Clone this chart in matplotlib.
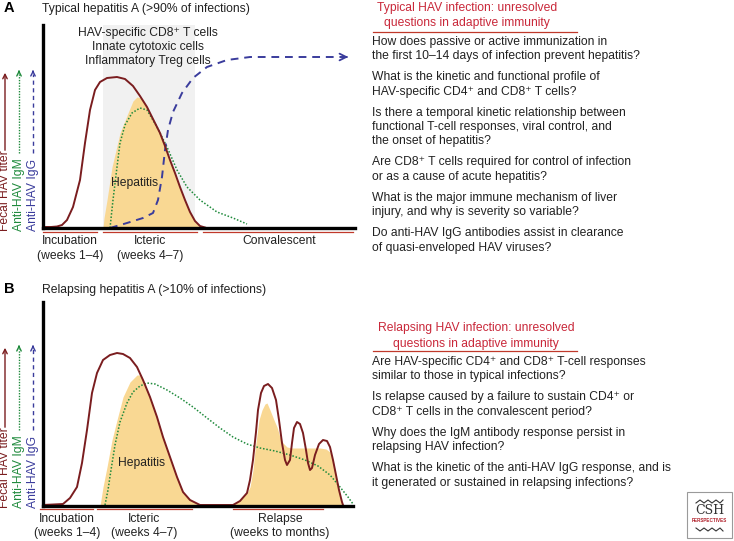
import matplotlib
matplotlib.use("Agg")
import matplotlib.pyplot as plt
from matplotlib.patches import Rectangle

plt.rcParams['font.family'] = ['Liberation Sans', 'DejaVu Sans']

# ---------------- data (schematic levels) ----------------
# Panel A: typical hepatitis A
a_fecal_t = [0, 8, 14, 19, 24, 30, 37, 42, 47, 52, 57, 64, 74, 82, 90, 97, 104, 110, 117, 122,
             127, 132, 137, 142, 147, 152, 157, 162]
a_fecal_v = [1, 1, 1.5, 3, 8, 21, 48, 85, 118, 138, 146, 150, 151, 149, 142, 132, 121, 109, 95, 82,
             68, 55, 41, 28, 16, 7, 2, 0.5]
a_hep_t = [60, 61, 64, 69, 77, 85, 90, 94, 98, 101, 104, 110, 117, 122, 127, 132, 137, 142, 147, 152, 157, 162]
a_hep_v = [0, 10, 28, 61, 95, 115, 127, 131, 130, 126, 120, 108, 94, 81, 67, 54, 40, 27, 15, 6, 1.5, 0]
a_igm_t = [67, 70, 74, 77, 82, 89, 97, 104, 114, 124, 134, 144, 157, 174, 190, 204]
a_igm_v = [0, 28, 61, 85, 103, 115, 120, 118, 101, 81, 58, 41, 28, 16, 10, 4]
a_igg_t = [67, 84, 100, 110, 115, 119, 122, 125, 130, 139, 150, 164, 184, 207, 240, 306]
a_igg_v = [0, 5, 10, 15, 28, 51, 78, 98, 116, 135, 150, 161, 168, 171, 171, 171]
a_tcell_window = [60, 152]

# Panel B: relapsing hepatitis A
b_fecal_t = [0, 20, 27, 34, 39, 44, 49, 54, 60, 67, 74, 80, 87, 94, 100, 107, 114, 120, 127, 134,
             140, 147, 157, 190, 197, 204, 207, 210, 213, 215, 218, 221, 225, 229, 233, 236, 239,
             242, 244, 247, 249, 251, 254, 257, 260, 263, 265, 267, 269, 272, 276, 280, 284, 287,
             290, 293, 296, 299, 300]
b_fecal_v = [1, 2, 8, 19, 43, 76, 113, 133, 146, 151, 153, 152, 148, 139, 126, 109, 89, 69, 49, 29,
             14, 6, 1, 1, 5, 13, 26, 46, 74, 96, 113, 120, 122, 118, 106, 86, 63,
             46, 41, 46, 63, 78, 84, 82, 73, 56, 43, 36, 38, 51, 62, 66, 65, 59,
             46, 31, 16, 4, 1]
b_hep1_t = [57, 60, 64, 69, 74, 80, 87, 94, 98, 100, 107, 114, 120, 127, 134, 140, 147, 157]
b_hep1_v = [0, 19, 39, 66, 86, 109, 124, 131, 131, 126, 109, 89, 69, 49, 29, 14, 6, 0]
b_hep2_t = [187, 197, 204, 207, 210, 212, 214, 216, 219, 222, 224, 227, 231, 234, 237, 240, 244,
            249, 257, 267, 277, 283, 287, 290, 293, 296, 299]
b_hep2_v = [0, 6, 13, 19, 36, 56, 71, 86, 96, 102, 103, 96, 86, 79, 69, 63, 59,
            58, 58, 58, 58, 57, 54, 46, 31, 16, 0]
b_igm_t = [62, 65, 68, 72, 77, 84, 90, 97, 104, 112, 124, 137, 150, 164, 177, 190, 204, 217, 232,
           247, 262, 275, 287, 297, 305, 310]
b_igm_v = [1, 16, 36, 61, 84, 103, 114, 120, 123, 122, 116, 108, 99, 88, 78, 69, 62, 58, 55,
           51, 46, 40, 31, 19, 9, 2]

a_phases = [("Incubation", "(weeks 1\u20134)"), ("Icteric", "(weeks 4\u20137)"), ("Convalescent", "")]
b_phases = [("Incubation", "(weeks 1\u20134)"), ("Icteric", "(weeks 4\u20137)"), ("Relapse", "(weeks to months)")]

a_header = ["Typical HAV infection: unresolved", "questions in adaptive immunity"]
b_header = ["Relapsing HAV infection: unresolved", "questions in adaptive immunity"]

a_questions = [
    ["How does passive or active immunization in", "the first 10\u201314 days of infection prevent hepatitis?"],
    ["What is the kinetic and functional profile of", "HAV-specific CD4\u207a and CD8\u207a T cells?"],
    ["Is there a temporal kinetic relationship between", "functional T-cell responses, viral control, and",
     "the onset of hepatitis?"],
    ["Are CD8\u207a T cells required for control of infection", "or as a cause of acute hepatitis?"],
    ["What is the major immune mechanism of liver", "injury, and why is severity so variable?"],
    ["Do anti-HAV IgG antibodies assist in clearance", "of quasi-enveloped HAV viruses?"],
]
b_questions = [
    ["Are HAV-specific CD4\u207a and CD8\u207a T-cell responses", "similar to those in typical infections?"],
    ["Is relapse caused by a failure to sustain CD4\u207a or", "CD8\u207a T cells in the convalescent period?"],
    ["Why does the IgM antibody response persist in", "relapsing HAV infection?"],
    ["What is the kinetic of the anti-HAV IgG response, and is",
     "it generated or sustained in relapsing infections?"],
]
tcell_lines = ["HAV-specific CD8\u207a T cells", "Innate cytotoxic cells", "Inflammatory Treg cells"]

# ---------------- styles ----------------
RED = "#7a1d1f"
YEL = "#f9d893"
GRN = "#1f8a3c"
BLU = "#3a3c9c"
HDR = "#c9283a"
SEG = "#c0392b"
TXT = "#222222"
FS = 8.7

W, H = 734, 541
fig = plt.figure(figsize=(W / 100, H / 100), dpi=100)


def fx(px):
    return px / W


def fy(py):
    return 1 - py / H


# overlay axes in pixel layout space for annotations
ov = fig.add_axes([0, 0, 1, 1], zorder=5)
ov.set_xlim(0, W)
ov.set_ylim(H, 0)
ov.axis("off")
ov.patch.set_alpha(0)


def panel(x0, x1, ytop, ybot, tmax, vmax):
    ax = fig.add_axes([fx(x0), fy(ybot), fx(x1) - fx(x0), (ybot - ytop) / H])
    ax.set_xlim(0, tmax)
    ax.set_ylim(0, vmax)
    for s in ("top", "right"):
        ax.spines[s].set_visible(False)
    for s in ("left", "bottom"):
        ax.spines[s].set_linewidth(2.4)
        ax.spines[s].set_zorder(10)
    ax.set_xticks([])
    ax.set_yticks([])
    ax.patch.set_alpha(0)
    return ax


# ---------------- panel A ----------------
axA = panel(43, 355, 25, 228, 312, 203)
axA.axvspan(a_tcell_window[0], a_tcell_window[1], color="#f1f1f1", zorder=0, lw=0)
axA.fill_between(a_hep_t, 0, a_hep_v, color=YEL, lw=0, zorder=1)
axA.plot(a_igm_t, a_igm_v, color=GRN, lw=1.1, ls=(0, (1, 1.2)), zorder=3, clip_on=False)
axA.plot(a_igg_t, a_igg_v, color=BLU, lw=1.4, ls=(0, (4, 3)), zorder=3, clip_on=False)
axA.annotate("", xy=(a_igg_t[-1] + 2, a_igg_v[-1]), xytext=(a_igg_t[-1] - 6, a_igg_v[-1]),
             arrowprops=dict(arrowstyle="->", color=BLU, lw=1.3, mutation_scale=12), zorder=3)
axA.plot(a_fecal_t, a_fecal_v, color=RED, lw=1.4, zorder=4, clip_on=False)
axA.text(92, 45, "Hepatitis", fontsize=FS, ha="center", va="center", color=TXT, zorder=5)

# ---------------- panel B ----------------
axB = panel(43, 353, 302, 506, 310, 204)
axB.fill_between(b_hep1_t, 0, b_hep1_v, color=YEL, lw=0, zorder=1)
axB.fill_between(b_hep2_t, 0, b_hep2_v, color=YEL, lw=0, zorder=1)
axB.plot(b_igm_t, b_igm_v, color=GRN, lw=1.1, ls=(0, (1, 1.2)), zorder=3, clip_on=False)
axB.plot(b_fecal_t, b_fecal_v, color=RED, lw=1.4, zorder=4, clip_on=False)
axB.text(99, 43, "Hepatitis", fontsize=FS, ha="center", va="center", color=TXT, zorder=5)

# ---------------- titles ----------------
ov.text(4, 8, "A", fontsize=10.5, fontweight="bold", ha="left", va="center")
ov.text(42, 9, "Typical hepatitis A (>90% of infections)", fontsize=FS, ha="left", va="center", color=TXT)
ov.text(4, 289, "B", fontsize=10.5, fontweight="bold", ha="left", va="center")
ov.text(42, 290, "Relapsing hepatitis A (>10% of infections)", fontsize=FS, ha="left", va="center", color=TXT)

for i, s in enumerate(tcell_lines):
    ov.text(148, 33 + 14 * i, s, fontsize=FS, ha="center", va="center", color=TXT)


# ---------------- y-axis legend labels with arrows ----------------
def ylabels(ybot, ytop_arrow):
    specs = [(5, "Fecal HAV titer", RED, "-"), (19, "Anti-HAV IgM", GRN, ":"), (33, "Anti-HAV IgG", BLU, "--")]
    for x, lab, c, ls in specs:
        ov.text(x, ybot, lab, rotation=90, fontsize=FS, color=c, ha="center", va="bottom")
        ystart = ybot - 78
        if ls == "-":
            ov.annotate("", xy=(x, ytop_arrow), xytext=(x, ystart),
                        arrowprops=dict(arrowstyle="->", color=c, lw=1.0, mutation_scale=8))
        else:
            ov.plot([x, x], [ystart, ytop_arrow + 4], color=c, lw=1.0,
                    ls=(0, (1, 1)) if ls == ":" else (0, (3, 2.5)))
            ov.annotate("", xy=(x, ytop_arrow), xytext=(x, ytop_arrow + 5),
                        arrowprops=dict(arrowstyle="->", color=c, lw=1.0, mutation_scale=8))


ylabels(231, 70)
ylabels(508, 345)


# ---------------- phase segments & labels ----------------
def phases(yline, segs, labels, centers, y1, y2):
    for (a, b) in segs:
        ov.plot([a, b], [yline, yline], color=SEG, lw=0.9)
    for (l1, l2), c in zip(labels, centers):
        ov.text(c, y1, l1, fontsize=FS, ha="center", va="center", color=TXT)
        if l2:
            ov.text(c, y2, l2, fontsize=FS, ha="center", va="center", color=TXT)


phases(232, [(43, 97), (103, 197), (203, 353)], a_phases, [70, 150, 279], 241, 256)
phases(509, [(40, 93), (97, 192), (233, 323)], b_phases, [67, 144, 280], 519, 533)


# ---------------- question columns ----------------
def questions(header, hx, hy, uy, qs, ystart):
    for i, s in enumerate(header):
        ov.text(hx, hy + 15.5 * i, s, fontsize=FS, color=HDR, ha="center", va="center")
    ov.plot([373, 577], [uy, uy], color=SEG, lw=0.9)
    y = ystart
    for q in qs:
        for line in q:
            ov.text(372, y, line, fontsize=FS, ha="left", va="center", color=TXT)
            y += 14.3
        y += 6.8


questions(a_header, 467, 7.5, 32, a_questions, 42)
questions(b_header, 476, 328, 351, b_questions, 362)

# ---------------- logo ----------------
ov.add_patch(Rectangle((687, 492), 45, 46, fill=False, ec="#9a9a9a", lw=0.8))
ov.text(709.5, 511, "CSH", fontsize=9, family="DejaVu Serif", ha="center", va="center", color="#333333")
ov.text(709.5, 521, "PERSPECTIVES", fontsize=3.3, fontweight="bold", ha="center", va="center", color="#b0202a")
ov.plot([696, 700, 704, 708, 712, 716, 720, 723], [503, 500, 503, 500, 503, 500, 503, 500], color="#333333", lw=0.8)
ov.plot([696, 700, 704, 708, 712, 716, 720, 723], [528, 531, 528, 531, 528, 531, 528, 531], color="#333333", lw=0.8)

fig.savefig("out.png", dpi=100, facecolor="white")
